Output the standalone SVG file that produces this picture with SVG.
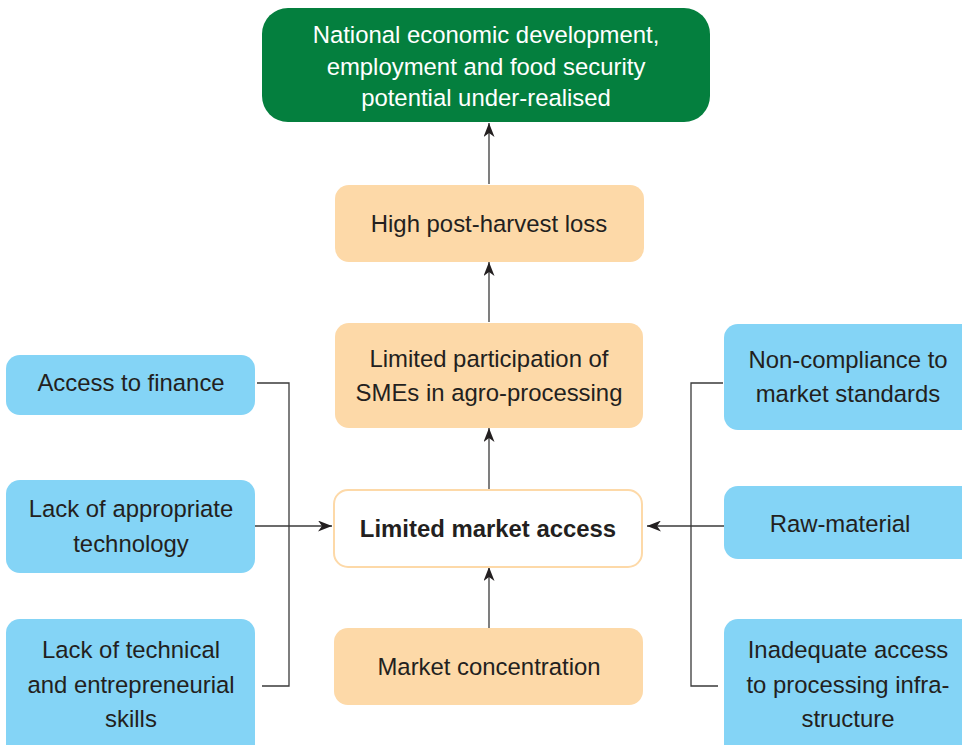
<svg xmlns="http://www.w3.org/2000/svg" width="962" height="745" viewBox="0 0 962 745">
<style>
.t{font-family:"Liberation Sans",Arial,sans-serif;font-size:23.9px;fill:#231f20;text-anchor:middle}
.w{fill:#ffffff}
.b{font-weight:bold}
.or{fill:#fdd9a8}
.bl{fill:#84d4f6}
.ln{fill:none;stroke:#3a3a3a;stroke-width:1.3}
</style>
<defs>
<marker id="ah" viewBox="0 0 14 11" refX="14" refY="5.5" markerWidth="14" markerHeight="11" markerUnits="userSpaceOnUse" orient="auto">
<path d="M0,0 L14,5.5 L0,11 L4,5.5 Z" fill="#231f20"/>
</marker>
</defs>
<rect width="962" height="745" fill="#ffffff"/>
<g id="connectors">
<line class="ln" x1="489" y1="184" x2="489" y2="123" marker-end="url(#ah)"/>
<line class="ln" x1="489" y1="322" x2="489" y2="262" marker-end="url(#ah)"/>
<line class="ln" x1="489" y1="489" x2="489" y2="428" marker-end="url(#ah)"/>
<line class="ln" x1="489" y1="628" x2="489" y2="567" marker-end="url(#ah)"/>
<polyline class="ln" points="257,383 289,383 289,686 262,686"/>
<line class="ln" x1="255" y1="526" x2="332" y2="526" marker-end="url(#ah)"/>
<polyline class="ln" points="723,383 691,383 691,686 718,686"/>
<line class="ln" x1="724" y1="526" x2="647" y2="526" marker-end="url(#ah)"/>
</g>
<g id="goal">
<rect x="262" y="8" width="448" height="114" rx="26" fill="#047f3e"/>
<text class="t w" x="486" y="43">National economic development,</text>
<text class="t w" x="486" y="75">employment and food security</text>
<text class="t w" x="486" y="106">potential under-realised</text>
</g>
<g id="loss">
<rect class="or" x="335" y="185" width="309" height="77" rx="14"/>
<text class="t" x="489" y="232">High post-harvest loss</text>
</g>
<g id="smes">
<rect class="or" x="335" y="323" width="308" height="105" rx="14"/>
<text class="t" x="489" y="367">Limited participation of</text>
<text class="t" x="489" y="401">SMEs in agro-processing</text>
</g>
<g id="market-access">
<rect x="334" y="490" width="308" height="77" rx="14" fill="#ffffff" stroke="#fdd9a8" stroke-width="2"/>
<text class="t b" x="488" y="537">Limited market access</text>
</g>
<g id="concentration">
<rect class="or" x="334" y="628" width="309" height="77" rx="14"/>
<text class="t" x="489" y="675">Market concentration</text>
</g>
<g id="finance">
<rect class="bl" x="6" y="355" width="249" height="60" rx="14"/>
<text class="t" x="131" y="391">Access to finance</text>
</g>
<g id="technology">
<rect class="bl" x="6" y="480" width="249" height="93" rx="14"/>
<text class="t" x="131" y="517">Lack of appropriate</text>
<text class="t" x="131" y="552">technology</text>
</g>
<g id="skills">
<rect class="bl" x="6" y="619" width="249" height="146" rx="14"/>
<text class="t" x="131" y="658">Lack of technical</text>
<text class="t" x="131" y="693">and entrepreneurial</text>
<text class="t" x="131" y="727">skills</text>
</g>
<g id="standards">
<rect class="bl" x="724" y="324" width="260" height="106" rx="14"/>
<text class="t" x="848" y="368">Non-compliance to</text>
<text class="t" x="848" y="402">market standards</text>
</g>
<g id="raw-material">
<rect class="bl" x="724" y="486" width="260" height="73" rx="14"/>
<text class="t" x="840" y="532">Raw-material</text>
</g>
<g id="infrastructure">
<rect class="bl" x="724" y="619" width="260" height="146" rx="14"/>
<text class="t" x="848" y="658">Inadequate access</text>
<text class="t" x="848" y="693">to processing infra-</text>
<text class="t" x="848" y="727">structure</text>
</g>
</svg>
